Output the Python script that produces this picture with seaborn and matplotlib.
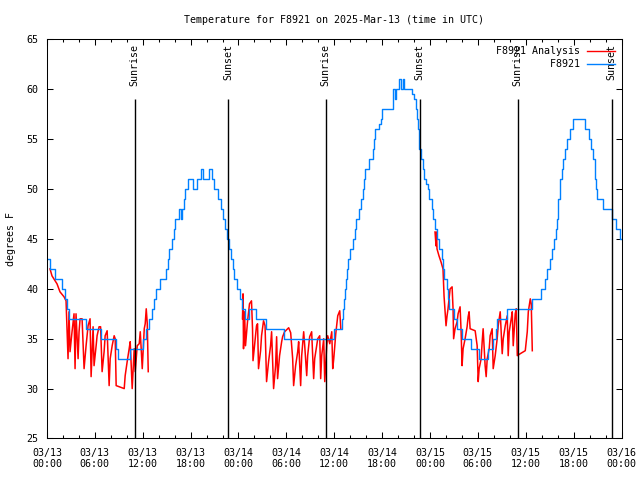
import pandas as pd
import numpy as np
import matplotlib
matplotlib.use('Agg')
import matplotlib.pyplot as plt
import matplotlib.dates as mdates
from matplotlib.lines import Line2D
import seaborn as sns

# observed temperature (hours after 2025-03-13 00:00 UTC, deg F), drawn as steps
obs_hours = [0.0, 0.38, 1.0, 1.88, 2.26, 2.51, 2.76, 4.9, 6.79, 8.67, 8.92, 10.43, 12.06, 12.44,
             12.82, 13.19, 13.45, 13.7, 14.2, 14.95, 15.14, 15.33, 15.7, 15.96, 16.08, 16.59,
             16.84, 16.96, 17.22, 17.34, 17.72, 18.35, 18.85, 19.35, 19.6, 20.36, 20.73, 20.99,
             21.49, 21.86, 22.12, 22.37, 22.62, 22.87, 23.12, 23.25, 23.5, 23.81, 24.25, 24.5,
             24.76, 25.26, 26.14, 27.4, 29.66, 35.94, 36.94, 37.07, 37.2, 37.32, 37.45, 37.64,
             37.76, 37.95, 38.33, 38.58, 38.7, 39.08, 39.33, 39.58, 39.71, 39.83, 40.34, 40.84,
             41.03, 41.16, 41.6, 41.85, 41.97, 43.35, 43.41, 43.6, 43.73, 44.1, 44.36, 44.61,
             44.74, 45.74, 46.0, 46.24, 46.37, 46.49, 46.56, 46.62, 46.87, 47.12, 47.31, 47.5,
             47.75, 47.88, 48.25, 48.38, 48.63, 48.88, 49.13, 49.51, 49.63, 49.76, 50.14, 50.26,
             50.39, 51.02, 51.4, 52.02, 53.15, 54.16, 55.29, 55.92, 56.3, 56.42, 57.68, 60.82,
             61.95, 62.46, 62.71, 63.09, 63.34, 63.59, 63.84, 63.96, 64.09, 64.34, 64.59, 64.71,
             64.97, 65.22, 65.6, 65.97, 67.48, 67.98, 68.23, 68.48, 68.73, 68.86, 68.99, 69.74,
             70.75, 71.25, 71.75, 72.0]
obs_temp = [43, 42, 41, 40, 39, 38, 37, 36, 35, 34, 33, 34, 35, 36,
            37, 38, 39, 40, 41, 42, 43, 44, 45, 46, 47, 48,
            47, 48, 49, 50, 51, 50, 51, 52, 51, 52, 51, 50,
            49, 48, 47, 46, 45, 44, 43, 42, 41, 40, 39, 38,
            37, 38, 37, 36, 35, 36, 37, 38, 39, 40, 41, 42,
            43, 44, 45, 46, 47, 48, 49, 50, 51, 52, 53, 54,
            55, 56, 56.5, 57, 58, 59, 60, 59, 60, 61, 60, 61,
            60, 59.5, 59, 58, 57, 56, 55, 54, 53, 52, 51, 50.5,
            50, 49, 48, 47, 46, 45, 44, 43, 42, 41, 40, 39,
            38, 37, 36, 35, 34, 33, 34, 35, 36, 37, 38, 39,
            40, 41, 42, 43, 44, 45, 46, 47, 49, 51, 52, 53,
            54, 55, 56, 57, 56, 55, 54, 53, 51, 50, 49, 48,
            47, 46, 45, 45]

# analysis temperature, one segment per night
ana1_hours = [0.38, 0.63, 1.26, 1.63, 2.14, 2.39, 2.64, 2.76, 2.89, 3.14, 3.39, 3.52, 3.64, 3.9,
              4.02, 4.15, 4.4, 4.65, 4.9, 5.15, 5.4, 5.53, 5.78, 5.9, 6.16, 6.28, 6.53, 6.72,
              6.91, 7.16, 7.29, 7.54, 7.79, 7.92, 8.17, 8.42, 8.55, 8.67, 9.68, 9.8, 10.05, 10.3,
              10.43, 10.68, 10.93, 11.06, 11.31, 11.56, 11.69, 11.94, 12.19, 12.31, 12.44, 12.57,
              12.69]
ana1_temp = [42, 41.3, 40.5, 39.7, 39.2, 38.8, 33, 37.7, 33.7, 35.7, 37.5, 32, 37.5, 33,
             35.7, 37, 37, 32, 34.3, 36.3, 37, 31.2, 36.2, 32.3, 34.3, 35.3, 36.2, 36.2,
             31.7, 33.7, 35.3, 35.8, 30.3, 33, 34.3, 35.3, 35, 30.3, 30, 31.3, 32.7, 34,
             34.7, 30, 34, 31.7, 34.3, 34.5, 35.7, 32, 36, 36.5, 38, 36.5,
             31.7]
ana2_hours = [24.5, 24.57, 24.63, 24.76, 24.88, 25.13, 25.38, 25.63, 25.76, 25.82, 26.01, 26.26,
              26.39, 26.51, 26.77, 26.89, 27.14, 27.33, 27.52, 27.77, 28.02, 28.15, 28.4, 28.65,
              28.78, 28.9, 29.15, 29.41, 29.53, 29.78, 30.29, 30.54, 30.79, 30.91, 31.16, 31.42,
              31.54, 31.79, 31.92, 32.17, 32.3, 32.55, 32.67, 32.92, 33.17, 33.42, 33.55, 33.8,
              33.93, 34.18, 34.3, 34.43, 34.68, 34.81, 35.06, 35.18, 35.44, 35.69, 35.81, 35.94,
              36.19, 36.44, 36.69, 36.82]
ana2_temp = [37, 39.5, 34, 37.7, 34.3, 36.7, 38.5, 38.8, 36, 32.8, 34.3, 36.3,
             36.5, 32, 33.8, 35.3, 36.8, 36.3, 30.7, 32.7, 34.3, 35.7, 30, 32.3,
             35.2, 31, 33.3, 34.7, 35.2, 35.7, 36.1, 35.6, 33, 30.3, 32.3, 33.7,
             34.7, 30.3, 33.3, 35.7, 34.3, 31.3, 33.3, 35.2, 35.7, 31, 33, 34.3,
             35, 35.3, 31, 33.3, 35, 30.7, 34.3, 35.3, 34.5, 35.7, 32, 33,
             35.5, 37.3, 37.8, 36]
ana3_hours = [48.63, 48.76, 48.82, 48.88, 49.13, 49.38, 49.63, 49.76, 50.01, 50.14, 50.26, 50.52,
              50.77, 50.89, 50.96, 51.14, 51.4, 51.52, 51.77, 51.9, 52.02, 52.15, 52.4, 52.65,
              52.78, 52.9, 53.03, 53.66, 53.91, 54.04, 54.16, 54.41, 54.54, 54.66, 54.91, 55.04,
              55.17, 55.42, 55.54, 55.79, 55.92, 56.17, 56.42, 56.55, 56.8, 57.05, 57.18, 57.43,
              57.68, 57.8, 57.93, 58.18, 58.31, 58.43, 58.68, 58.81, 58.94, 59.31, 59.94, 60.19,
              60.32, 60.57, 60.69, 60.82]
ana3_temp = [45.7, 44.3, 45.7, 44, 43.3, 42.7, 42, 39.3, 36.3, 37.3, 38, 40,
             40.2, 38, 35, 36, 36.7, 37.5, 38.2, 35.7, 32.3, 34, 35, 36.2,
             37.2, 37.7, 36, 35.8, 34.3, 30.7, 32, 33, 34.7, 36, 32.3, 31.2,
             33, 34, 35.3, 36, 32, 33.3, 35, 36.3, 37.7, 33.5, 35, 36.3,
             37.3, 33.3, 35.7, 37, 37.7, 34.3, 37.5, 38, 33.3, 33.5, 33.8, 35.7,
             37.7, 39, 38.5, 33.8]

sun_hours = [11.0, 22.7, 34.95, 46.72, 58.98, 70.77]
sun_labels = ['Sunrise', 'Sunset', 'Sunrise', 'Sunset', 'Sunrise', 'Sunset']

start = pd.Timestamp('2025-03-13 00:00')
BLUE = '#0080ff'
FONT = {'family': 'DejaVu Sans Mono', 'size': 7.2}
plt.rcParams['font.family'] = 'DejaVu Sans Mono'
plt.rcParams['font.size'] = 7.2

obs = pd.DataFrame({'time': start + pd.to_timedelta(obs_hours, unit='h'), 'temp': obs_temp})
ana = pd.concat([
    pd.DataFrame({'time': start + pd.to_timedelta(h, unit='h'), 'temp': t, 'night': i})
    for i, (h, t) in enumerate([(ana1_hours, ana1_temp), (ana2_hours, ana2_temp), (ana3_hours, ana3_temp)])
])

fig = plt.figure(figsize=(6.4, 4.8), dpi=100)
ax = fig.add_axes([0.0734, 0.0865, 0.8977, 0.8313])

sns.lineplot(data=ana, x='time', y='temp', units='night', estimator=None,
             color='red', lw=1.1, ax=ax, legend=False)
sns.lineplot(data=obs, x='time', y='temp', color=BLUE, lw=1.0,
             drawstyle='steps-post', ax=ax, legend=False)

# sunrise / sunset markers
sun_times = start + pd.to_timedelta(sun_hours, unit='h')
ax.vlines(sun_times, 25, 59, color='black', lw=1.0)
for t, lab in zip(sun_times, sun_labels):
    ax.text(t, 64.5, lab, rotation=90, ha='center', va='top', fontdict=FONT)

ax.set_xlim(start, start + pd.Timedelta(hours=72))
ax.set_ylim(25, 65)
ax.set_yticks(np.arange(25, 66, 5))
ax.xaxis.set_major_locator(mdates.HourLocator(byhour=[0, 6, 12, 18]))
ax.xaxis.set_minor_locator(mdates.HourLocator(interval=2))
ax.xaxis.set_major_formatter(mdates.DateFormatter('%m/%d\n%H:%M'))
for lab in ax.get_xticklabels():
    lab.set_linespacing(1.05)

ax.tick_params(which='both', direction='in', top=True, right=True, colors='black', labelsize=7.2)
ax.tick_params(which='major', length=4, width=0.75)
ax.tick_params(which='minor', length=2, width=0.75)
ax.tick_params(axis='x', which='major', pad=7)
ax.tick_params(axis='y', which='major', pad=6)
for s in ax.spines.values():
    s.set_linewidth(0.75)
    s.set_color('black')

ax.set_xlabel('')
ax.set_ylabel('degrees F', fontdict=FONT, labelpad=8)
ax.set_title('Temperature for F8921 on 2025-Mar-13 (time in UTC)', fontdict=FONT, pad=12)

handles = [Line2D([], [], color='red', lw=1.0), Line2D([], [], color=BLUE, lw=1.0)]
ax.legend(handles, ['F8921 Analysis', '         F8921'], loc='upper right', frameon=False,
          markerfirst=False, handlelength=2.8, handletextpad=0.7, labelspacing=0.3,
          borderaxespad=0.3, prop=FONT)

fig.savefig('out.png', dpi=100)
